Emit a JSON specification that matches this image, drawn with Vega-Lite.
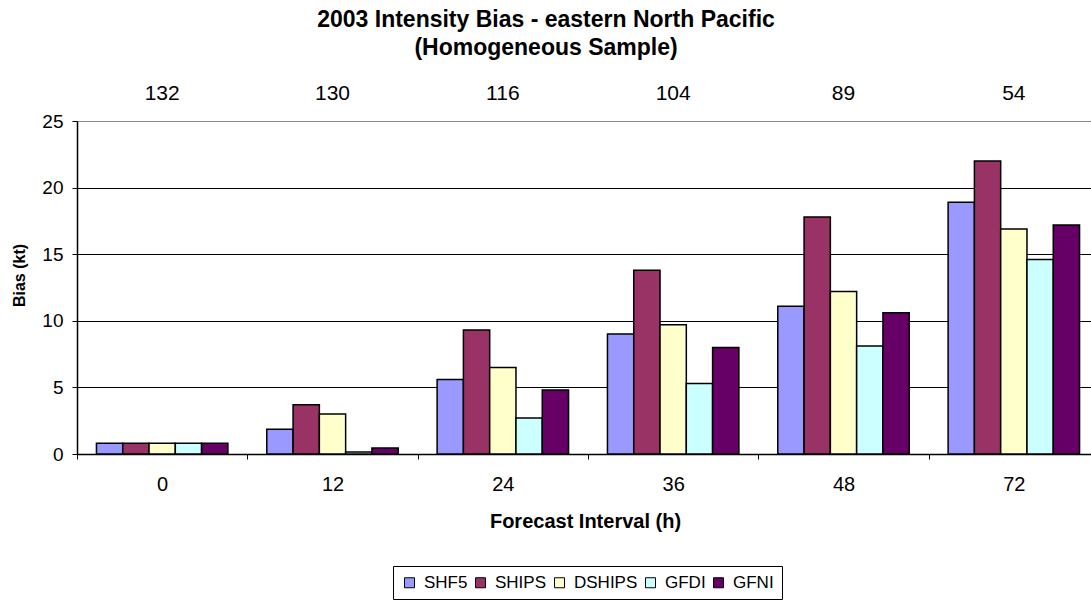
{
  "$schema": "https://vega.github.io/schema/vega-lite/v6.json",
  "width": 1014,
  "height": 333,
  "autosize": {"type": "none"},
  "padding": {"left": 77, "top": 121, "right": 0, "bottom": 150},
  "background": "white",
  "config": {
    "font": "Liberation Sans",
    "view": {"stroke": null},
    "axis": {"labelColor": "black", "titleColor": "black", "labelFont": "Liberation Sans", "titleFont": "Liberation Sans"}
  },
  "title": {
    "text": ["2003 Intensity Bias - eastern North Pacific", "(Homogeneous Sample)"],
    "fontSize": 23,
    "fontWeight": "bold",
    "font": "Liberation Sans",
    "color": "black",
    "anchor": "middle",
    "frame": "group",
    "dx": -38,
    "lineHeight": 27.5,
    "offset": 23
  },
  "datasets": {
    "bias": [
      {"interval": "0", "model": "SHF5", "bias": 0.8},
      {"interval": "0", "model": "SHIPS", "bias": 0.8},
      {"interval": "0", "model": "DSHIPS", "bias": 0.8},
      {"interval": "0", "model": "GFDI", "bias": 0.8},
      {"interval": "0", "model": "GFNI", "bias": 0.8},
      {"interval": "12", "model": "SHF5", "bias": 1.85},
      {"interval": "12", "model": "SHIPS", "bias": 3.7},
      {"interval": "12", "model": "DSHIPS", "bias": 3.0},
      {"interval": "12", "model": "GFDI", "bias": 0.15},
      {"interval": "12", "model": "GFNI", "bias": 0.45},
      {"interval": "24", "model": "SHF5", "bias": 5.6},
      {"interval": "24", "model": "SHIPS", "bias": 9.3},
      {"interval": "24", "model": "DSHIPS", "bias": 6.5},
      {"interval": "24", "model": "GFDI", "bias": 2.7},
      {"interval": "24", "model": "GFNI", "bias": 4.8},
      {"interval": "36", "model": "SHF5", "bias": 9.0},
      {"interval": "36", "model": "SHIPS", "bias": 13.8},
      {"interval": "36", "model": "DSHIPS", "bias": 9.7},
      {"interval": "36", "model": "GFDI", "bias": 5.3},
      {"interval": "36", "model": "GFNI", "bias": 8.0},
      {"interval": "48", "model": "SHF5", "bias": 11.1},
      {"interval": "48", "model": "SHIPS", "bias": 17.8},
      {"interval": "48", "model": "DSHIPS", "bias": 12.2},
      {"interval": "48", "model": "GFDI", "bias": 8.1},
      {"interval": "48", "model": "GFNI", "bias": 10.6},
      {"interval": "72", "model": "SHF5", "bias": 18.9},
      {"interval": "72", "model": "SHIPS", "bias": 22.0},
      {"interval": "72", "model": "DSHIPS", "bias": 16.9},
      {"interval": "72", "model": "GFDI", "bias": 14.6},
      {"interval": "72", "model": "GFNI", "bias": 17.2}
    ],
    "counts": [
      {"interval": "0", "n": 132},
      {"interval": "12", "n": 130},
      {"interval": "24", "n": 116},
      {"interval": "36", "n": 104},
      {"interval": "48", "n": 89},
      {"interval": "72", "n": 54}
    ]
  },
  "layer": [
    {
      "data": {"name": "bias"},
      "mark": {"type": "bar", "stroke": "black", "strokeWidth": 1.5},
      "encoding": {
        "x": {
          "field": "interval",
          "type": "nominal",
          "sort": ["0", "12", "24", "36", "48", "72"],
          "scale": {"range": [0, 1022], "paddingInner": 0, "paddingOuter": 0},
          "axis": {
            "title": "Forecast Interval (h)",
            "labelAngle": 0,
            "tickBand": "extent",
            "domainColor": "black",
            "domainWidth": 1.5,
            "tickColor": "black",
            "tickSize": 5,
            "labelFontSize": 20,
            "labelPadding": 15,
            "titleFontSize": 20,
            "titleFontWeight": "bold",
            "titlePadding": 17,
            "titleX": 508,
            "titleAnchor": "middle"
          }
        },
        "xOffset": {
          "field": "model",
          "type": "nominal",
          "sort": ["SHF5", "SHIPS", "DSHIPS", "GFDI", "GFNI"],
          "scale": {"paddingOuter": 0.74, "paddingInner": 0}
        },
        "y": {
          "field": "bias",
          "type": "quantitative",
          "scale": {"domain": [0, 25], "nice": false},
          "axis": {
            "title": "Bias (kt)",
            "values": [0, 5, 10, 15, 20, 25],
            "grid": true,
            "gridColor": {"condition": {"test": "datum.value === 25", "value": "#8c8c8c"}, "value": "black"},
            "gridWidth": 1.2,
            "domainColor": "black",
            "domainWidth": 1.5,
            "tickColor": "black",
            "tickSize": 5,
            "labelFontSize": 19,
            "labelPadding": 9,
            "titleFontSize": 16,
            "titleFontWeight": "bold",
            "titlePadding": 14,
            "titleY": 154
          }
        },
        "color": {
          "field": "model",
          "type": "nominal",
          "sort": ["SHF5", "SHIPS", "DSHIPS", "GFDI", "GFNI"],
          "scale": {
            "domain": ["SHF5", "SHIPS", "DSHIPS", "GFDI", "GFNI"],
            "range": ["#9999FF", "#993366", "#FFFFCC", "#CCFFFF", "#660066"]
          },
          "legend": {
            "title": null,
            "orient": "none",
            "direction": "horizontal",
            "legendX": 316,
            "legendY": 445,
            "symbolType": "square",
            "symbolSize": 100,
            "symbolStrokeColor": "black",
            "symbolStrokeWidth": 1,
            "symbolOpacity": 1,
            "labelFontSize": 17,
            "labelColor": "black",
            "labelOffset": 6,
            "columnPadding": 4,
            "strokeColor": "black",
            "padding": 8
          }
        }
      }
    },
    {
      "data": {"name": "counts"},
      "mark": {"type": "text", "fontSize": 21, "baseline": "alphabetic", "color": "black"},
      "encoding": {
        "x": {"field": "interval", "type": "nominal", "sort": ["0", "12", "24", "36", "48", "72"]},
        "y": {"datum": 26.6, "type": "quantitative"},
        "text": {"field": "n", "type": "nominal"}
      }
    }
  ]
}
